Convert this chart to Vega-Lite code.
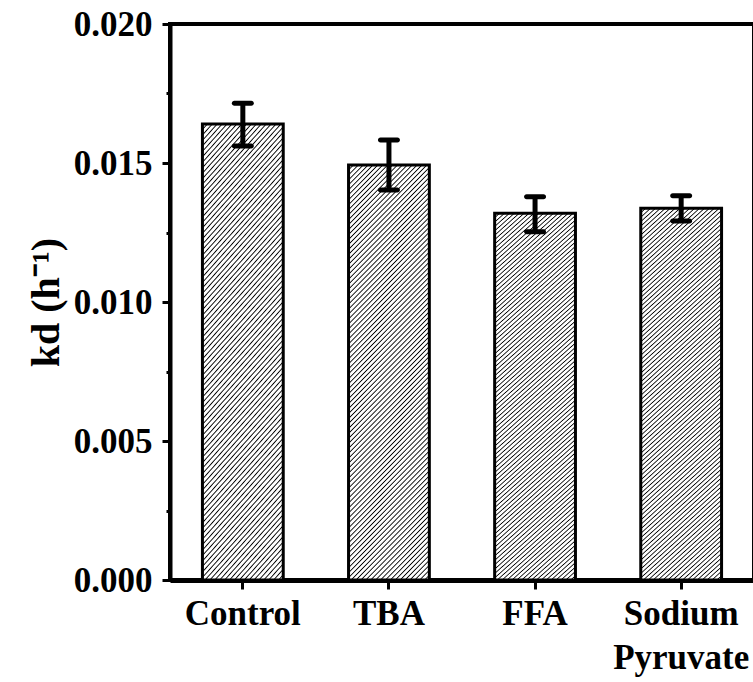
{
  "$schema": "https://vega.github.io/schema/vega-lite/v6.json",
  "autosize": "none",
  "padding": {"left": 170, "top": 24, "right": 0, "bottom": 102},
  "width": 584,
  "height": 556,
  "background": "white",
  "config": {
    "font": "Liberation Serif",
    "view": {"stroke": "black", "strokeWidth": 4},
    "axis": {"grid": false, "domainColor": "black", "tickColor": "black", "labelColor": "black", "titleColor": "black", "labelFont": "Liberation Serif", "titleFont": "Liberation Serif", "labelFontWeight": "bold", "titleFontWeight": "bold"}
  },
  "data": {
    "values": [
      {"treatment": "Control", "kd": 0.01640, "lo": 0.01561, "hi": 0.01715},
      {"treatment": "TBA", "kd": 0.01493, "lo": 0.01403, "hi": 0.01583},
      {"treatment": "FFA", "kd": 0.01319, "lo": 0.01253, "hi": 0.01379},
      {"treatment": "Sodium Pyruvate", "kd": 0.01337, "lo": 0.01291, "hi": 0.01382}
    ]
  },
  "encoding": {
    "x": {
      "field": "treatment", "type": "nominal", "sort": null,
      "scale": {"paddingInner": 0.447, "paddingOuter": 0.222},
      "axis": {
        "title": null, "labelAngle": 0, "labelFontSize": 35, "labelPadding": 7, "labelLineHeight": 44, "labelLimit": 400,
        "labelExpr": "datum.label == 'Sodium Pyruvate' ? ['Sodium', 'Pyruvate'] : datum.label",
        "domainWidth": 5, "tickWidth": 3, "tickSize": 9
      }
    }
  },
  "layer": [
    {
      "mark": {
        "type": "bar", "stroke": "black", "strokeWidth": 3,
        "fill": {
          "gradient": "linear", "x1": 0, "y1": 0, "x2": 0.2278, "y2": 1.153,
          "stops": [
{"offset":0,"color":"#000"},{"offset":0.0025,"color":"#fff"},{"offset":0.0075,"color":"#fff"},
{"offset":0.01,"color":"#000"},{"offset":0.0125,"color":"#fff"},{"offset":0.0175,"color":"#fff"},
{"offset":0.02,"color":"#000"},{"offset":0.0225,"color":"#fff"},{"offset":0.0275,"color":"#fff"},
{"offset":0.03,"color":"#000"},{"offset":0.0325,"color":"#fff"},{"offset":0.0375,"color":"#fff"},
{"offset":0.04,"color":"#000"},{"offset":0.0425,"color":"#fff"},{"offset":0.0475,"color":"#fff"},
{"offset":0.05,"color":"#000"},{"offset":0.0525,"color":"#fff"},{"offset":0.0575,"color":"#fff"},
{"offset":0.06,"color":"#000"},{"offset":0.0625,"color":"#fff"},{"offset":0.0675,"color":"#fff"},
{"offset":0.07,"color":"#000"},{"offset":0.0725,"color":"#fff"},{"offset":0.0775,"color":"#fff"},
{"offset":0.08,"color":"#000"},{"offset":0.0825,"color":"#fff"},{"offset":0.0875,"color":"#fff"},
{"offset":0.09,"color":"#000"},{"offset":0.0925,"color":"#fff"},{"offset":0.0975,"color":"#fff"},
{"offset":0.10,"color":"#000"},{"offset":0.1025,"color":"#fff"},{"offset":0.1075,"color":"#fff"},
{"offset":0.11,"color":"#000"},{"offset":0.1125,"color":"#fff"},{"offset":0.1175,"color":"#fff"},
{"offset":0.12,"color":"#000"},{"offset":0.1225,"color":"#fff"},{"offset":0.1275,"color":"#fff"},
{"offset":0.13,"color":"#000"},{"offset":0.1325,"color":"#fff"},{"offset":0.1375,"color":"#fff"},
{"offset":0.14,"color":"#000"},{"offset":0.1425,"color":"#fff"},{"offset":0.1475,"color":"#fff"},
{"offset":0.15,"color":"#000"},{"offset":0.1525,"color":"#fff"},{"offset":0.1575,"color":"#fff"},
{"offset":0.16,"color":"#000"},{"offset":0.1625,"color":"#fff"},{"offset":0.1675,"color":"#fff"},
{"offset":0.17,"color":"#000"},{"offset":0.1725,"color":"#fff"},{"offset":0.1775,"color":"#fff"},
{"offset":0.18,"color":"#000"},{"offset":0.1825,"color":"#fff"},{"offset":0.1875,"color":"#fff"},
{"offset":0.19,"color":"#000"},{"offset":0.1925,"color":"#fff"},{"offset":0.1975,"color":"#fff"},
{"offset":0.20,"color":"#000"},{"offset":0.2025,"color":"#fff"},{"offset":0.2075,"color":"#fff"},
{"offset":0.21,"color":"#000"},{"offset":0.2125,"color":"#fff"},{"offset":0.2175,"color":"#fff"},
{"offset":0.22,"color":"#000"},{"offset":0.2225,"color":"#fff"},{"offset":0.2275,"color":"#fff"},
{"offset":0.23,"color":"#000"},{"offset":0.2325,"color":"#fff"},{"offset":0.2375,"color":"#fff"},
{"offset":0.24,"color":"#000"},{"offset":0.2425,"color":"#fff"},{"offset":0.2475,"color":"#fff"},
{"offset":0.25,"color":"#000"},{"offset":0.2525,"color":"#fff"},{"offset":0.2575,"color":"#fff"},
{"offset":0.26,"color":"#000"},{"offset":0.2625,"color":"#fff"},{"offset":0.2675,"color":"#fff"},
{"offset":0.27,"color":"#000"},{"offset":0.2725,"color":"#fff"},{"offset":0.2775,"color":"#fff"},
{"offset":0.28,"color":"#000"},{"offset":0.2825,"color":"#fff"},{"offset":0.2875,"color":"#fff"},
{"offset":0.29,"color":"#000"},{"offset":0.2925,"color":"#fff"},{"offset":0.2975,"color":"#fff"},
{"offset":0.30,"color":"#000"},{"offset":0.3025,"color":"#fff"},{"offset":0.3075,"color":"#fff"},
{"offset":0.31,"color":"#000"},{"offset":0.3125,"color":"#fff"},{"offset":0.3175,"color":"#fff"},
{"offset":0.32,"color":"#000"},{"offset":0.3225,"color":"#fff"},{"offset":0.3275,"color":"#fff"},
{"offset":0.33,"color":"#000"},{"offset":0.3325,"color":"#fff"},{"offset":0.3375,"color":"#fff"},
{"offset":0.34,"color":"#000"},{"offset":0.3425,"color":"#fff"},{"offset":0.3475,"color":"#fff"},
{"offset":0.35,"color":"#000"},{"offset":0.3525,"color":"#fff"},{"offset":0.3575,"color":"#fff"},
{"offset":0.36,"color":"#000"},{"offset":0.3625,"color":"#fff"},{"offset":0.3675,"color":"#fff"},
{"offset":0.37,"color":"#000"},{"offset":0.3725,"color":"#fff"},{"offset":0.3775,"color":"#fff"},
{"offset":0.38,"color":"#000"},{"offset":0.3825,"color":"#fff"},{"offset":0.3875,"color":"#fff"},
{"offset":0.39,"color":"#000"},{"offset":0.3925,"color":"#fff"},{"offset":0.3975,"color":"#fff"},
{"offset":0.40,"color":"#000"},{"offset":0.4025,"color":"#fff"},{"offset":0.4075,"color":"#fff"},
{"offset":0.41,"color":"#000"},{"offset":0.4125,"color":"#fff"},{"offset":0.4175,"color":"#fff"},
{"offset":0.42,"color":"#000"},{"offset":0.4225,"color":"#fff"},{"offset":0.4275,"color":"#fff"},
{"offset":0.43,"color":"#000"},{"offset":0.4325,"color":"#fff"},{"offset":0.4375,"color":"#fff"},
{"offset":0.44,"color":"#000"},{"offset":0.4425,"color":"#fff"},{"offset":0.4475,"color":"#fff"},
{"offset":0.45,"color":"#000"},{"offset":0.4525,"color":"#fff"},{"offset":0.4575,"color":"#fff"},
{"offset":0.46,"color":"#000"},{"offset":0.4625,"color":"#fff"},{"offset":0.4675,"color":"#fff"},
{"offset":0.47,"color":"#000"},{"offset":0.4725,"color":"#fff"},{"offset":0.4775,"color":"#fff"},
{"offset":0.48,"color":"#000"},{"offset":0.4825,"color":"#fff"},{"offset":0.4875,"color":"#fff"},
{"offset":0.49,"color":"#000"},{"offset":0.4925,"color":"#fff"},{"offset":0.4975,"color":"#fff"},
{"offset":0.50,"color":"#000"},{"offset":0.5025,"color":"#fff"},{"offset":0.5075,"color":"#fff"},
{"offset":0.51,"color":"#000"},{"offset":0.5125,"color":"#fff"},{"offset":0.5175,"color":"#fff"},
{"offset":0.52,"color":"#000"},{"offset":0.5225,"color":"#fff"},{"offset":0.5275,"color":"#fff"},
{"offset":0.53,"color":"#000"},{"offset":0.5325,"color":"#fff"},{"offset":0.5375,"color":"#fff"},
{"offset":0.54,"color":"#000"},{"offset":0.5425,"color":"#fff"},{"offset":0.5475,"color":"#fff"},
{"offset":0.55,"color":"#000"},{"offset":0.5525,"color":"#fff"},{"offset":0.5575,"color":"#fff"},
{"offset":0.56,"color":"#000"},{"offset":0.5625,"color":"#fff"},{"offset":0.5675,"color":"#fff"},
{"offset":0.57,"color":"#000"},{"offset":0.5725,"color":"#fff"},{"offset":0.5775,"color":"#fff"},
{"offset":0.58,"color":"#000"},{"offset":0.5825,"color":"#fff"},{"offset":0.5875,"color":"#fff"},
{"offset":0.59,"color":"#000"},{"offset":0.5925,"color":"#fff"},{"offset":0.5975,"color":"#fff"},
{"offset":0.60,"color":"#000"},{"offset":0.6025,"color":"#fff"},{"offset":0.6075,"color":"#fff"},
{"offset":0.61,"color":"#000"},{"offset":0.6125,"color":"#fff"},{"offset":0.6175,"color":"#fff"},
{"offset":0.62,"color":"#000"},{"offset":0.6225,"color":"#fff"},{"offset":0.6275,"color":"#fff"},
{"offset":0.63,"color":"#000"},{"offset":0.6325,"color":"#fff"},{"offset":0.6375,"color":"#fff"},
{"offset":0.64,"color":"#000"},{"offset":0.6425,"color":"#fff"},{"offset":0.6475,"color":"#fff"},
{"offset":0.65,"color":"#000"},{"offset":0.6525,"color":"#fff"},{"offset":0.6575,"color":"#fff"},
{"offset":0.66,"color":"#000"},{"offset":0.6625,"color":"#fff"},{"offset":0.6675,"color":"#fff"},
{"offset":0.67,"color":"#000"},{"offset":0.6725,"color":"#fff"},{"offset":0.6775,"color":"#fff"},
{"offset":0.68,"color":"#000"},{"offset":0.6825,"color":"#fff"},{"offset":0.6875,"color":"#fff"},
{"offset":0.69,"color":"#000"},{"offset":0.6925,"color":"#fff"},{"offset":0.6975,"color":"#fff"},
{"offset":0.70,"color":"#000"},{"offset":0.7025,"color":"#fff"},{"offset":0.7075,"color":"#fff"},
{"offset":0.71,"color":"#000"},{"offset":0.7125,"color":"#fff"},{"offset":0.7175,"color":"#fff"},
{"offset":0.72,"color":"#000"},{"offset":0.7225,"color":"#fff"},{"offset":0.7275,"color":"#fff"},
{"offset":0.73,"color":"#000"},{"offset":0.7325,"color":"#fff"},{"offset":0.7375,"color":"#fff"},
{"offset":0.74,"color":"#000"},{"offset":0.7425,"color":"#fff"},{"offset":0.7475,"color":"#fff"},
{"offset":0.75,"color":"#000"},{"offset":0.7525,"color":"#fff"},{"offset":0.7575,"color":"#fff"},
{"offset":0.76,"color":"#000"},{"offset":0.7625,"color":"#fff"},{"offset":0.7675,"color":"#fff"},
{"offset":0.77,"color":"#000"},{"offset":0.7725,"color":"#fff"},{"offset":0.7775,"color":"#fff"},
{"offset":0.78,"color":"#000"},{"offset":0.7825,"color":"#fff"},{"offset":0.7875,"color":"#fff"},
{"offset":0.79,"color":"#000"},{"offset":0.7925,"color":"#fff"},{"offset":0.7975,"color":"#fff"},
{"offset":0.80,"color":"#000"},{"offset":0.8025,"color":"#fff"},{"offset":0.8075,"color":"#fff"},
{"offset":0.81,"color":"#000"},{"offset":0.8125,"color":"#fff"},{"offset":0.8175,"color":"#fff"},
{"offset":0.82,"color":"#000"},{"offset":0.8225,"color":"#fff"},{"offset":0.8275,"color":"#fff"},
{"offset":0.83,"color":"#000"},{"offset":0.8325,"color":"#fff"},{"offset":0.8375,"color":"#fff"},
{"offset":0.84,"color":"#000"},{"offset":0.8425,"color":"#fff"},{"offset":0.8475,"color":"#fff"},
{"offset":0.85,"color":"#000"},{"offset":0.8525,"color":"#fff"},{"offset":0.8575,"color":"#fff"},
{"offset":0.86,"color":"#000"},{"offset":0.8625,"color":"#fff"},{"offset":0.8675,"color":"#fff"},
{"offset":0.87,"color":"#000"},{"offset":0.8725,"color":"#fff"},{"offset":0.8775,"color":"#fff"},
{"offset":0.88,"color":"#000"},{"offset":0.8825,"color":"#fff"},{"offset":0.8875,"color":"#fff"},
{"offset":0.89,"color":"#000"},{"offset":0.8925,"color":"#fff"},{"offset":0.8975,"color":"#fff"},
{"offset":0.90,"color":"#000"},{"offset":0.9025,"color":"#fff"},{"offset":0.9075,"color":"#fff"},
{"offset":0.91,"color":"#000"},{"offset":0.9125,"color":"#fff"},{"offset":0.9175,"color":"#fff"},
{"offset":0.92,"color":"#000"},{"offset":0.9225,"color":"#fff"},{"offset":0.9275,"color":"#fff"},
{"offset":0.93,"color":"#000"},{"offset":0.9325,"color":"#fff"},{"offset":0.9375,"color":"#fff"},
{"offset":0.94,"color":"#000"},{"offset":0.9425,"color":"#fff"},{"offset":0.9475,"color":"#fff"},
{"offset":0.95,"color":"#000"},{"offset":0.9525,"color":"#fff"},{"offset":0.9575,"color":"#fff"},
{"offset":0.96,"color":"#000"},{"offset":0.9625,"color":"#fff"},{"offset":0.9675,"color":"#fff"},
{"offset":0.97,"color":"#000"},{"offset":0.9725,"color":"#fff"},{"offset":0.9775,"color":"#fff"},
{"offset":0.98,"color":"#000"},{"offset":0.9825,"color":"#fff"},{"offset":0.9875,"color":"#fff"},
{"offset":0.99,"color":"#000"},{"offset":0.9925,"color":"#fff"},{"offset":1,"color":"#fff"}
          ]
        }
      },
      "encoding": {
        "y": {
          "field": "kd", "type": "quantitative",
          "scale": {"domain": [0, 0.02], "nice": false},
          "axis": {
            "title": "kd (h⁻¹)", "titleFontSize": 40, "titlePadding": 7,
            "values": [0, 0.0025, 0.005, 0.0075, 0.01, 0.0125, 0.015, 0.0175, 0.02],
            "format": ".3f",
            "labelExpr": "round(datum.value * 10000) % 50 == 0 ? datum.label : ''",
            "labelFontSize": 35, "labelPadding": 10,
            "domainWidth": 4, "tickWidth": 3,
            "tickSize": {"condition": {"test": "round(datum.value * 10000) % 50 == 0", "value": 8}, "value": 4}
          }
        }
      }
    },
    {
      "mark": {"type": "rule", "color": "black", "strokeWidth": 5},
      "encoding": {
        "y": {"field": "lo", "type": "quantitative"},
        "y2": {"field": "hi"}
      }
    },
    {
      "mark": {"type": "tick", "color": "black", "size": 22, "thickness": 5, "cornerRadius": 2.5, "orient": "horizontal", "opacity": 1},
      "encoding": {"y": {"field": "hi", "type": "quantitative"}}
    },
    {
      "mark": {"type": "tick", "color": "black", "size": 22, "thickness": 5, "cornerRadius": 2.5, "orient": "horizontal", "opacity": 1},
      "encoding": {"y": {"field": "lo", "type": "quantitative"}}
    }
  ]
}
